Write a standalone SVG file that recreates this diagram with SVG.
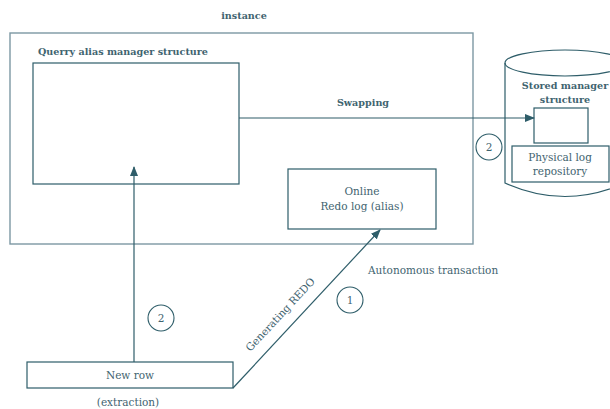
<svg xmlns="http://www.w3.org/2000/svg" width="610" height="409" viewBox="0 0 610 409">
<style>
text{font-family:'DejaVu Serif',serif;fill:#3f6470;font-size:10.5px}
.b{font-weight:bold;font-size:9.6px}
.m{text-anchor:middle}
.ln{fill:none;stroke:#2e5d69;stroke-width:1.2}
.lt{fill:none;stroke:#7c98a3;stroke-width:1.4}
.c{fill:#fff;stroke:#2e5d69;stroke-width:1.1}
</style>
<defs>
<marker id="ah" markerWidth="10" markerHeight="8" refX="9" refY="4" orient="auto" markerUnits="userSpaceOnUse">
<path d="M0,0 L10,4 L0,8 Z" fill="#2e5d69"/>
</marker>
</defs>
<rect width="610" height="409" fill="#fff"/>
<g id="instance">
<rect x="10" y="33" width="463" height="211" class="lt"/>
<text x="244" y="19" class="b m">instance</text>
</g>
<g id="querry">
<rect x="33" y="63" width="206" height="121" class="ln"/>
<text x="38" y="55" class="b">Querry alias manager structure</text>
</g>
<g id="online">
<rect x="288" y="169" width="148" height="60" class="ln"/>
<text x="362" y="195" class="m">Online</text>
<text x="362" y="210" class="m">Redo log (alias)</text>
</g>
<g id="stored">
<path d="M505,63 L505,183 Q565,210 625,183 L625,63" class="ln" fill="#fff"/>
<ellipse cx="565" cy="63" rx="60" ry="13" class="ln"/>
<text x="565" y="89" class="b m">Stored manager</text>
<text x="565" y="103" class="b m">structure</text>
<rect x="534" y="108" width="54" height="35" class="ln"/>
<rect x="512" y="146" width="97" height="36" class="ln"/>
<text x="560" y="161" class="m">Physical log</text>
<text x="560" y="175" class="m">repository</text>
</g>
<g id="newrow">
<rect x="27" y="362" width="206" height="26" class="ln"/>
<text x="130" y="379" class="m">New row</text>
<text x="128" y="406" class="m">(extraction)</text>
</g>
<g id="connectors">
<line x1="239" y1="118" x2="534" y2="118" class="ln" marker-end="url(#ah)"/>
<text x="363" y="106" class="b m">Swapping</text>
<line x1="134" y1="362" x2="134" y2="167" class="ln" marker-end="url(#ah)"/>
<line x1="233" y1="388" x2="380" y2="230" class="ln" marker-end="url(#ah)"/>
<text x="0" y="0" class="m" transform="translate(283,317) rotate(-47)">Generating REDO</text>
<text x="368" y="274">Autonomous transaction</text>
</g>
<g id="badges">
<circle cx="489" cy="147" r="13" class="c"/>
<text x="489" y="151" class="m">2</text>
<circle cx="161" cy="318" r="13" class="c"/>
<text x="161" y="322" class="m">2</text>
<circle cx="350" cy="300" r="13" class="c"/>
<text x="350" y="304" class="m">1</text>
</g>
</svg>
